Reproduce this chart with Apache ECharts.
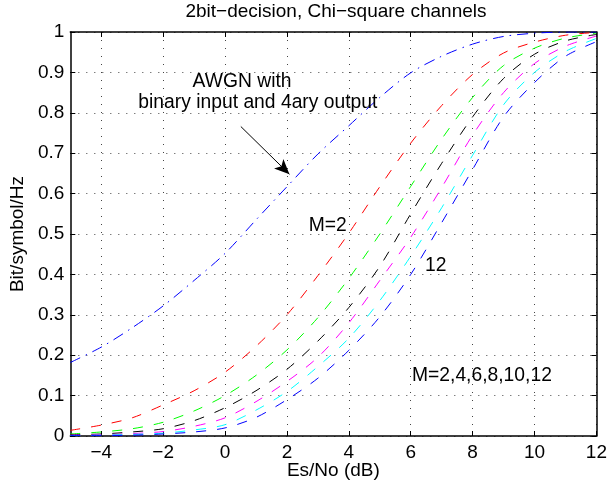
<!DOCTYPE html>
<html>
<head>
<meta charset="utf-8">
<script src="https://cdn.jsdelivr.net/npm/echarts@6/dist/echarts.min.js"></script>
<style>
  html, body { margin: 0; padding: 0; background: #ffffff; }
  #chart { width: 610px; height: 491px; }
</style>
</head>
<body>
<div id="chart"></div>
<script>
// Es/No grid (dB) shared by every curve
const snrDb = [-5, -4, -3, -2, -1, 0, 1, 2, 3, 4, 5, 6, 7, 8, 9, 10, 11, 12];

// AWGN channel, binary input and 4-ary output
const awgn = [0.182, 0.220, 0.268, 0.322, 0.385, 0.452, 0.535, 0.617, 0.698, 0.768, 0.838, 0.899, 0.940, 0.970, 0.989, 0.997, 1.000, 1.000];

// Chi-square channels with 2-bit decision, M = 2,4,6,8,10,12
const chiM2  = [0.014, 0.027, 0.045, 0.077, 0.112, 0.158, 0.222, 0.300, 0.397, 0.502, 0.617, 0.725, 0.818, 0.895, 0.948, 0.975, 0.992, 0.999];
const chiM4  = [0.005, 0.010, 0.018, 0.034, 0.062, 0.100, 0.150, 0.213, 0.293, 0.390, 0.500, 0.618, 0.735, 0.838, 0.917, 0.960, 0.985, 0.997];
const chiM6  = [0.003, 0.005, 0.010, 0.018, 0.038, 0.070, 0.112, 0.165, 0.235, 0.318, 0.420, 0.550, 0.675, 0.790, 0.885, 0.945, 0.978, 0.994];
const chiM8  = [0.002, 0.003, 0.006, 0.011, 0.024, 0.045, 0.085, 0.135, 0.195, 0.280, 0.385, 0.492, 0.615, 0.745, 0.850, 0.922, 0.965, 0.990];
const chiM10 = [0.001, 0.002, 0.004, 0.007, 0.015, 0.028, 0.064, 0.110, 0.172, 0.242, 0.335, 0.445, 0.565, 0.695, 0.820, 0.900, 0.952, 0.984];
const chiM12 = [0.001, 0.001, 0.002, 0.005, 0.010, 0.020, 0.046, 0.090, 0.143, 0.212, 0.295, 0.400, 0.528, 0.660, 0.790, 0.875, 0.940, 0.976];

const chiSeries = [
  { name: 'M=2',  values: chiM2,  color: '#ff0000' },
  { name: 'M=4',  values: chiM4,  color: '#00ff00' },
  { name: 'M=6',  values: chiM6,  color: '#000000' },
  { name: 'M=8',  values: chiM8,  color: '#ff00ff' },
  { name: 'M=10', values: chiM10, color: '#00ffff' },
  { name: 'M=12', values: chiM12, color: '#0000ff' }
];

// Axis ticks
const xTicks = [-4, -2, 0, 2, 4, 6, 8, 10, 12];
const yTicks = [0, 0.1, 0.2, 0.3, 0.4, 0.5, 0.6, 0.7, 0.8, 0.9, 1];

// Texts
const titleText = '2bit\u2212decision, Chi\u2212square channels';
const xName = 'Es/No (dB)';
const yName = 'Bit/symbol/Hz';
const notes = [
  { text: 'AWGN with', at: [0.55, 0.876] },
  { text: 'binary input and 4ary output', at: [1.06, 0.824] },
  { text: 'M=2', at: [3.32, 0.520] },
  { text: '12', at: [6.81, 0.421] },
  { text: 'M=2,4,6,8,10,12', at: [8.30, 0.149] }
];
const arrowFrom = [0.51, 0.766];
const arrowTo = [2.08, 0.648];

const FONT = '"Liberation Sans", Arial, Helvetica, sans-serif';
const AX_FS = 19;
const NOTE_FS = 19.3;

const pairs = vals => snrDb.map((x, i) => [x, vals[i]]);
const minus = v => String(v).replace('-', '\u2212');

const gridLine = { show: true, lineStyle: { color: '#444', width: 1, type: [1, 7] } };
const boxLine = { show: true, onZero: false, lineStyle: { color: '#000', width: 1.5 } };

function xAxisDef(pos, labels) {
  return {
    type: 'value', position: pos, min: -5, max: 12,
    axisLine: boxLine,
    axisTick: { show: true, inside: true, length: 5, customValues: xTicks, lineStyle: { color: '#000' } },
    axisLabel: { show: labels, customValues: xTicks, formatter: minus, color: '#000',
                 fontFamily: FONT, fontSize: AX_FS, margin: 7 },
    splitLine: labels ? gridLine : { show: false },
    name: labels ? xName : '', nameLocation: 'middle', nameGap: 25, nameMoveOverlap: false,
    nameTextStyle: { color: '#000', fontFamily: FONT, fontSize: AX_FS, verticalAlign: 'top' }
  };
}
function yAxisDef(pos, labels) {
  return {
    type: 'value', position: pos, min: 0, max: 1, interval: 0.1,
    axisLine: boxLine,
    axisTick: { show: true, inside: true, length: 5, lineStyle: { color: '#000' } },
    axisLabel: { show: labels, color: '#000', fontFamily: FONT, fontSize: AX_FS, margin: 6,
                 formatter: v => (v === 0 || v === 1) ? String(v) : v.toFixed(1) },
    splitLine: labels ? gridLine : { show: false },
    name: labels ? yName : '', nameLocation: 'middle', nameGap: 37, nameRotate: 90,
    nameTextStyle: { color: '#000', fontFamily: FONT, fontSize: AX_FS }
  };
}

const series = [];
chiSeries.forEach(s => {
  series.push({
    name: s.name, type: 'line', data: pairs(s.values), showSymbol: false,
    smooth: 0.3, silent: true,
    lineStyle: { color: s.color, width: 1, type: [10, 11] }
  });
});
series.push({
  name: 'AWGN', type: 'line', data: pairs(awgn), showSymbol: false,
  smooth: 0.3, silent: true,
  lineStyle: { color: '#0000ff', width: 1, type: [11, 6, 1.5, 6] }
});
// Annotation layer: texts and the arrow, placed in data coordinates
series.push({
  name: 'notes', type: 'scatter', data: [], silent: true,
  markPoint: {
    symbol: 'circle', symbolSize: 0, silent: true,
    label: { show: true, position: 'inside', color: '#000', fontFamily: FONT, fontSize: NOTE_FS,
             formatter: p => p.name },
    data: notes.map(n => ({ name: n.text, coord: n.at }))
  },
  markLine: {
    silent: true, symbol: ['none', 'arrow'], symbolSize: [10, 15],
    lineStyle: { color: '#000', width: 1, type: 'solid' },
    label: { show: false },
    data: [[{ coord: arrowFrom }, { coord: arrowTo }]]
  }
});

const chart = echarts.init(document.getElementById('chart'), null, { renderer: 'canvas' });
chart.setOption({
  animation: false,
  backgroundColor: '#ffffff',
  title: {
    text: titleText, left: 331, top: -3, textAlign: 'center',
    textStyle: { color: '#000', fontFamily: FONT, fontSize: AX_FS, fontWeight: 'normal' }
  },
  grid: { left: 63, right: 12, top: 32, bottom: 55, containLabel: false },
  xAxis: [xAxisDef('bottom', true), xAxisDef('top', false)],
  yAxis: [yAxisDef('left', true), yAxisDef('right', false)],
  series: series
});
</script>
</body>
</html>
